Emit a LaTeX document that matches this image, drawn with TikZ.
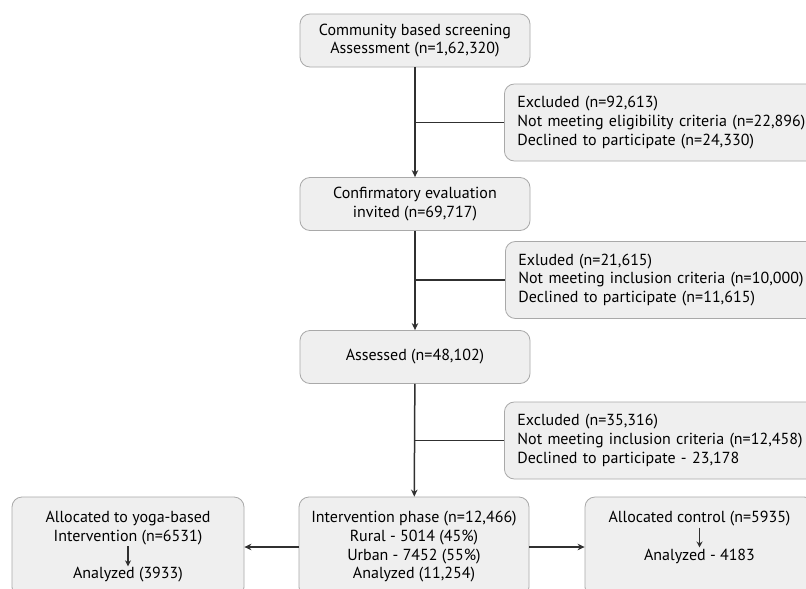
\documentclass[tikz,border=0pt]{standalone}
\usepackage{fontspec}
\setmainfont{PT Sans}
\usetikzlibrary{arrows.meta}
\definecolor{boxfill}{HTML}{EFEFEF}
\definecolor{boxline}{HTML}{A9A9A9}
\definecolor{linecol}{HTML}{303030}
\begin{document}
\begin{tikzpicture}[x=1pt,y=-1pt,
    box/.style={draw=boxline, fill=boxfill, rounded corners=10pt, line width=0.8pt,
      minimum width=230pt, minimum height=53pt, align=center,
      font=\fontsize{16}{18.7}\selectfont},
    exbox/.style={box, anchor=west, align=left, text width=300pt,
      minimum height=77pt, inner xsep=13pt},
    txt/.style={align=center, inner sep=1pt, font=\fontsize{16}{18.7}\selectfont},
    link/.style={draw=linecol, line width=1.5pt},
    flow/.style={link, -{Stealth[length=7pt,width=6.5pt]}},
    subflow/.style={draw=linecol, line width=1.2pt, -{Stealth[length=6pt,width=6pt]}}]

    \clip (0,0) rectangle (806,589);
    \fill[white] (0,0) rectangle (806,589);

    \node[box] (screen) at (415,40.5) {Community based screening\\Assessment (n=1,62,320)};
    \node[exbox] (excl1) at (504,122.5) {Excluded (n=92,613)\\Not meeting eligibility criteria (n=22,896)\\Declined to participate (n=24,330)};
    \node[box] (confirm) at (415,204) {Confirmatory evaluation\\invited (n=69,717)};
    \node[exbox] (excl2) at (505,280) {Exluded (n=21,615)\\Not meeting inclusion criteria (n=10,000)\\Declined to participate (n=11,615)};
    \node[box] (assessed) at (415,357) {Assessed (n=48,102)};
    \node[exbox] (excl3) at (504,440.5) {Excluded (n=35,316)\\Not meeting inclusion criteria (n=12,458)\\Declined to participate - 23,178};

    \node[box, minimum height=100pt] (phase) at (414,547) {Intervention phase (n=12,466)\\Rural - 5014 (45\%)\\Urban - 7452 (55\%)\\Analyzed (11,254)};
    \node[box, minimum height=100pt, minimum width=232pt] (yoga) at (128,547) {};
    \node[box, minimum height=100pt, minimum width=229pt] (control) at (699.5,547) {};

    \node[txt] (yogaA) at (128,528) {Allocated to yoga-based\\Intervention (n=6531)};
    \node[txt] (yogaB) at (128,575) {Analyzed (3933)};
    \node[txt] (controlA) at (699.5,519) {Allocated control (n=5935)};
    \node[txt] (controlB) at (699.5,556) {Analyzed - 4183};

    \draw[flow] (screen) -- (confirm);
    \draw[link] (screen |- excl1) -- (excl1);
    \draw[flow] (confirm) -- (assessed);
    \draw[link] (confirm |- excl2) -- (excl2);
    \draw[flow] (assessed) -- (phase);
    \draw[link] (assessed |- excl3) -- (excl3);
    \draw[flow] (phase) -- (yoga);
    \draw[flow] (phase) -- (control);

    \draw[subflow] (yogaA) -- (yogaB);
    \draw[subflow] (controlA) -- (controlB);

\end{tikzpicture}
\end{document}
